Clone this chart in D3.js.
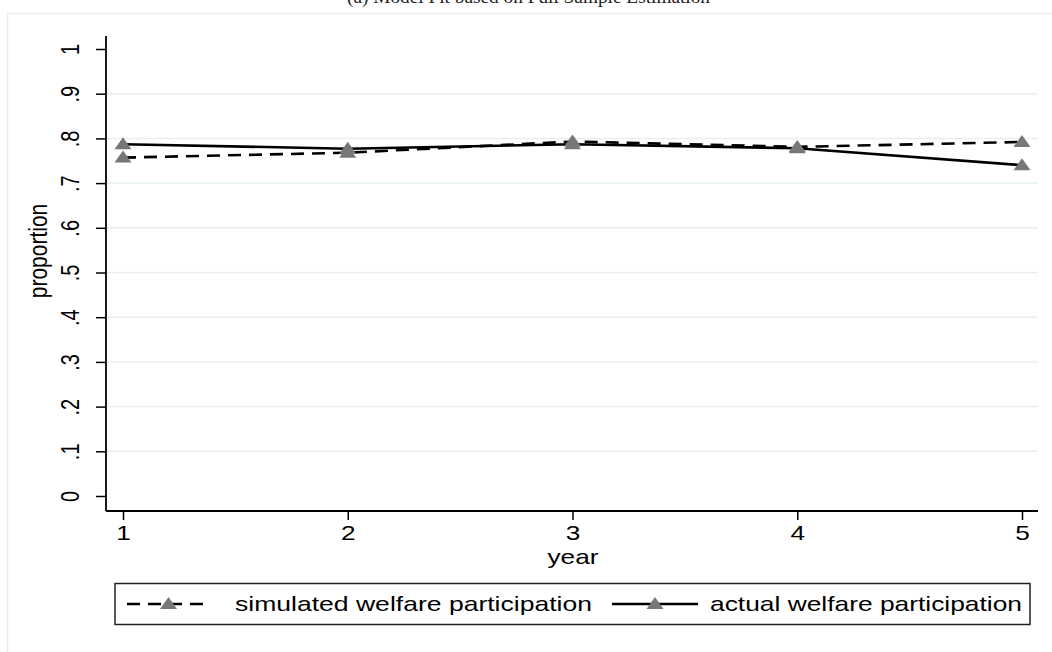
<!DOCTYPE html>
<html>
<head>
<meta charset="utf-8">
<script src="https://cdn.jsdelivr.net/npm/d3@7"></script>
<style>
  body { margin: 0; background: #fff; }
  svg { display: block; }
  text { font-family: "Liberation Sans", Arial, sans-serif; fill: #000; }
</style>
</head>
<body>
<script>
// chart data
var years = [1, 2, 3, 4, 5];
var simulated = [0.757, 0.768, 0.793, 0.781, 0.792];
var actual = [0.787, 0.777, 0.787, 0.778, 0.740];
var yTicks = [0, 0.1, 0.2, 0.3, 0.4, 0.5, 0.6, 0.7, 0.8, 0.9, 1];
var yTickLabels = ["0", ".1", ".2", ".3", ".4", ".5", ".6", ".7", ".8", ".9", "1"];
var legendLabels = ["simulated welfare participation", "actual welfare participation"];

var svgWidth = 1052, svgHeight = 652;
var stretch = 1.25; // the picture is widened, text looks stretched sideways
var svg = d3.select('body').append('svg').attr('width', svgWidth).attr('height', svgHeight);

// outer graph region frame
svg.append('rect')
  .attr('x', 7.5).attr('y', 13.5)
  .attr('width', 1060).attr('height', 700)
  .attr('fill', 'none').attr('stroke', '#e6eef1').attr('stroke-width', 1.5);

// title (cut off at the top, like the original)
svg.append('text')
  .attr('x', 347).attr('y', 3)
  .attr('textLength', 363).attr('lengthAdjust', 'spacingAndGlyphs')
  .style('font-family', '"Liberation Serif", "Times New Roman", serif')
  .style('font-size', '18px')
  .style('fill', '#222')
  .text('(a) Model Fit based on Full Sample Estimation');

var xScale = d3.scaleLinear().domain([1, 5]).range([123, 1022]);
var yScale = d3.scaleLinear().domain([0, 1]).range([496, 49]);
var plotLeft = 106, plotRight = 1038, plotBottom = 511, plotTop = 36;

// gridlines
svg.append('g').selectAll('line')
  .data(yTicks.slice(1, 10))
  .enter().append('line')
  .attr('x1', plotLeft).attr('x2', plotRight)
  .attr('y1', d => yScale(d)).attr('y2', d => yScale(d))
  .attr('stroke', '#e6f0f2').attr('stroke-width', 1.5);

// y axis
var leftAxis = d3.axisLeft(yScale)
  .tickValues(yTicks)
  .tickFormat((d, i) => yTickLabels[i])
  .tickSize(10).tickPadding(0);
var gy = svg.append('g').attr('transform', `translate(${plotLeft},0)`).call(leftAxis);
gy.select('.domain').remove();
gy.selectAll('.tick line').attr('stroke', '#000').attr('stroke-width', 1.5);
gy.selectAll('.tick text')
  .attr('x', 0).attr('y', 0).attr('dy', null)
  .attr('text-anchor', 'middle')
  .attr('transform', `translate(-35,0) scale(${stretch},1) rotate(-90)`)
  .attr('dominant-baseline', 'central')
  .style('font-size', '20px');
svg.append('line')
  .attr('x1', plotLeft).attr('x2', plotLeft)
  .attr('y1', plotTop).attr('y2', plotBottom)
  .attr('stroke', '#000').attr('stroke-width', 1.8);

// x axis
var bottomAxis = d3.axisBottom(xScale).tickValues(years).tickFormat(d3.format('d')).tickSize(9);
var gx = svg.append('g').attr('transform', `translate(0,${plotBottom})`).call(bottomAxis);
gx.select('.domain').remove();
gx.selectAll('.tick line').attr('stroke', '#000').attr('stroke-width', 1.5);
gx.selectAll('.tick text')
  .attr('y', 0).attr('dy', null)
  .attr('transform', `translate(0,29) scale(${stretch},1)`)
  .style('font-size', '21px');
svg.append('line')
  .attr('x1', plotLeft).attr('x2', plotRight)
  .attr('y1', plotBottom).attr('y2', plotBottom)
  .attr('stroke', '#000').attr('stroke-width', 1.8);

// axis titles
svg.append('text').attr('transform', `translate(573,564) scale(${stretch},1)`).attr('text-anchor', 'middle')
  .style('font-size', '21px').text('year');
svg.append('text').attr('transform', `translate(47,251) scale(${stretch},1) rotate(-90)`).attr('text-anchor', 'middle')
  .style('font-size', '21px').text('proportion');

// lines
var line = d3.line().x((d, i) => xScale(years[i])).y(d => yScale(d));
svg.append('path').datum(simulated).attr('d', line)
  .attr('fill', 'none').attr('stroke', '#000').attr('stroke-width', 2.6)
  .attr('stroke-dasharray', '13,8');
svg.append('path').datum(actual).attr('d', line)
  .attr('fill', 'none').attr('stroke', '#000').attr('stroke-width', 2.6);

// triangle markers (wider than tall, like the stretched original)
var tri = 'M0,-7L8.5,5L-8.5,5Z';
[simulated, actual].forEach(series => {
  svg.append('g').selectAll('path')
    .data(series).enter().append('path')
    .attr('d', tri)
    .attr('transform', (d, i) => `translate(${xScale(years[i])},${yScale(d)})`)
    .attr('fill', '#777');
});

// legend
var legend = svg.append('g');
legend.append('rect')
  .attr('x', 115).attr('y', 583.5).attr('width', 915).attr('height', 41)
  .attr('fill', '#fff').attr('stroke', '#222').attr('stroke-width', 1.5);
var legendItems = [
  { x1: 127, x2: 210, tx: 235, len: 357, dash: '13,8' },
  { x1: 612, x2: 698, tx: 710, len: 312, dash: null }
];
legendItems.forEach((it, i) => {
  legend.append('line')
    .attr('x1', it.x1).attr('x2', it.x2).attr('y1', 604).attr('y2', 604)
    .attr('stroke', '#000').attr('stroke-width', 2.6)
    .attr('stroke-dasharray', it.dash);
  legend.append('path').attr('d', tri)
    .attr('transform', `translate(${(it.x1 + it.x2) / 2},${604})`)
    .attr('fill', '#777');
  legend.append('text').attr('x', it.tx).attr('y', 611)
    .attr('textLength', it.len).attr('lengthAdjust', 'spacingAndGlyphs')
    .style('font-size', '21px').text(legendLabels[i]);
});
</script>
</body>
</html>
